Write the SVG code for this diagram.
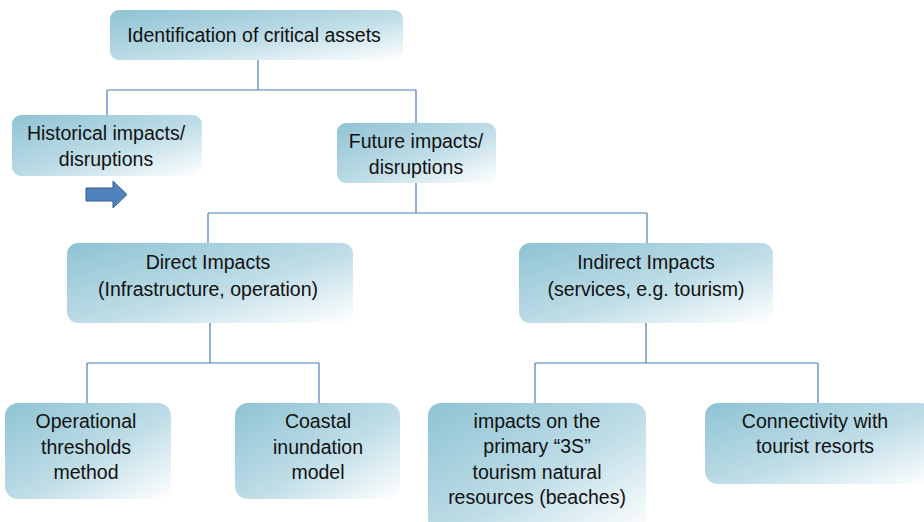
<svg xmlns="http://www.w3.org/2000/svg" width="924" height="522" viewBox="0 0 924 522">
<defs>
<linearGradient id="g" x1="0" y1="0" x2="1" y2="1">
<stop offset="0" stop-color="#8ec3d3"/>
<stop offset="0.55" stop-color="#bfdde7"/>
<stop offset="1" stop-color="#ffffff"/>
</linearGradient>
<style>
.box{fill:url(#g);}
.t{font-family:"Liberation Sans",Arial,sans-serif;font-size:19.5px;fill:#111;text-anchor:middle;}
.c{fill:none;stroke:#4a7ebb;stroke-width:1.2;}
</style>
</defs>
<rect width="924" height="522" fill="#fff"/>
<g id="connectors">
<path class="c" d="M258 60V90M107 90H416M107 90V116M416 90V123"/>
<path class="c" d="M416 183V213M208 213H647M208 213V243M647 213V243"/>
<path class="c" d="M210 323V363M87 363H319M87 363V403M319 363V403"/>
<path class="c" d="M646 323V363M535 363H818M535 363V403M818 363V403"/>
</g>
<g id="identification">
<rect class="box" x="110" y="10" width="293" height="50" rx="9"/>
<text class="t" x="254" y="42">Identification of critical assets</text>
</g>
<g id="historical">
<rect class="box" x="12" y="115" width="190" height="61" rx="9"/>
<text class="t" x="106" y="140">Historical impacts/</text>
<text class="t" x="106" y="166">disruptions</text>
</g>
<g id="arrow">
<path d="M86 188H113V181L127 194.5L113 208V201H86Z" fill="#4f81bd" stroke="#385d8a" stroke-width="1"/>
</g>
<g id="future">
<rect class="box" x="337" y="123" width="159" height="60" rx="9"/>
<text class="t" x="416" y="148">Future impacts/</text>
<text class="t" x="416" y="174">disruptions</text>
</g>
<g id="direct">
<rect class="box" x="67" y="243" width="286" height="80" rx="11"/>
<text class="t" x="208" y="269">Direct Impacts</text>
<text class="t" x="208" y="296">(Infrastructure, operation)</text>
</g>
<g id="indirect">
<rect class="box" x="519" y="243" width="254" height="80" rx="11"/>
<text class="t" x="646" y="269">Indirect Impacts</text>
<text class="t" x="646" y="296">(services, e.g. tourism)</text>
</g>
<g id="operational">
<rect class="box" x="5" y="403" width="166" height="96" rx="13"/>
<text class="t" x="86" y="428">Operational</text>
<text class="t" x="86" y="454">thresholds</text>
<text class="t" x="86" y="479">method</text>
</g>
<g id="coastal">
<rect class="box" x="235" y="403" width="165" height="96" rx="13"/>
<text class="t" x="318" y="428">Coastal</text>
<text class="t" x="318" y="454">inundation</text>
<text class="t" x="318" y="479">model</text>
</g>
<g id="impacts3s">
<rect class="box" x="428" y="403" width="218" height="130" rx="13"/>
<text class="t" x="537" y="428">impacts on the</text>
<text class="t" x="537" y="453">primary “3S”</text>
<text class="t" x="537" y="479">tourism natural</text>
<text class="t" x="537" y="504">resources (beaches)</text>
</g>
<g id="connectivity">
<rect class="box" x="705" y="403" width="230" height="81" rx="13"/>
<text class="t" x="815" y="428">Connectivity with</text>
<text class="t" x="815" y="453">tourist resorts</text>
</g>
</svg>
